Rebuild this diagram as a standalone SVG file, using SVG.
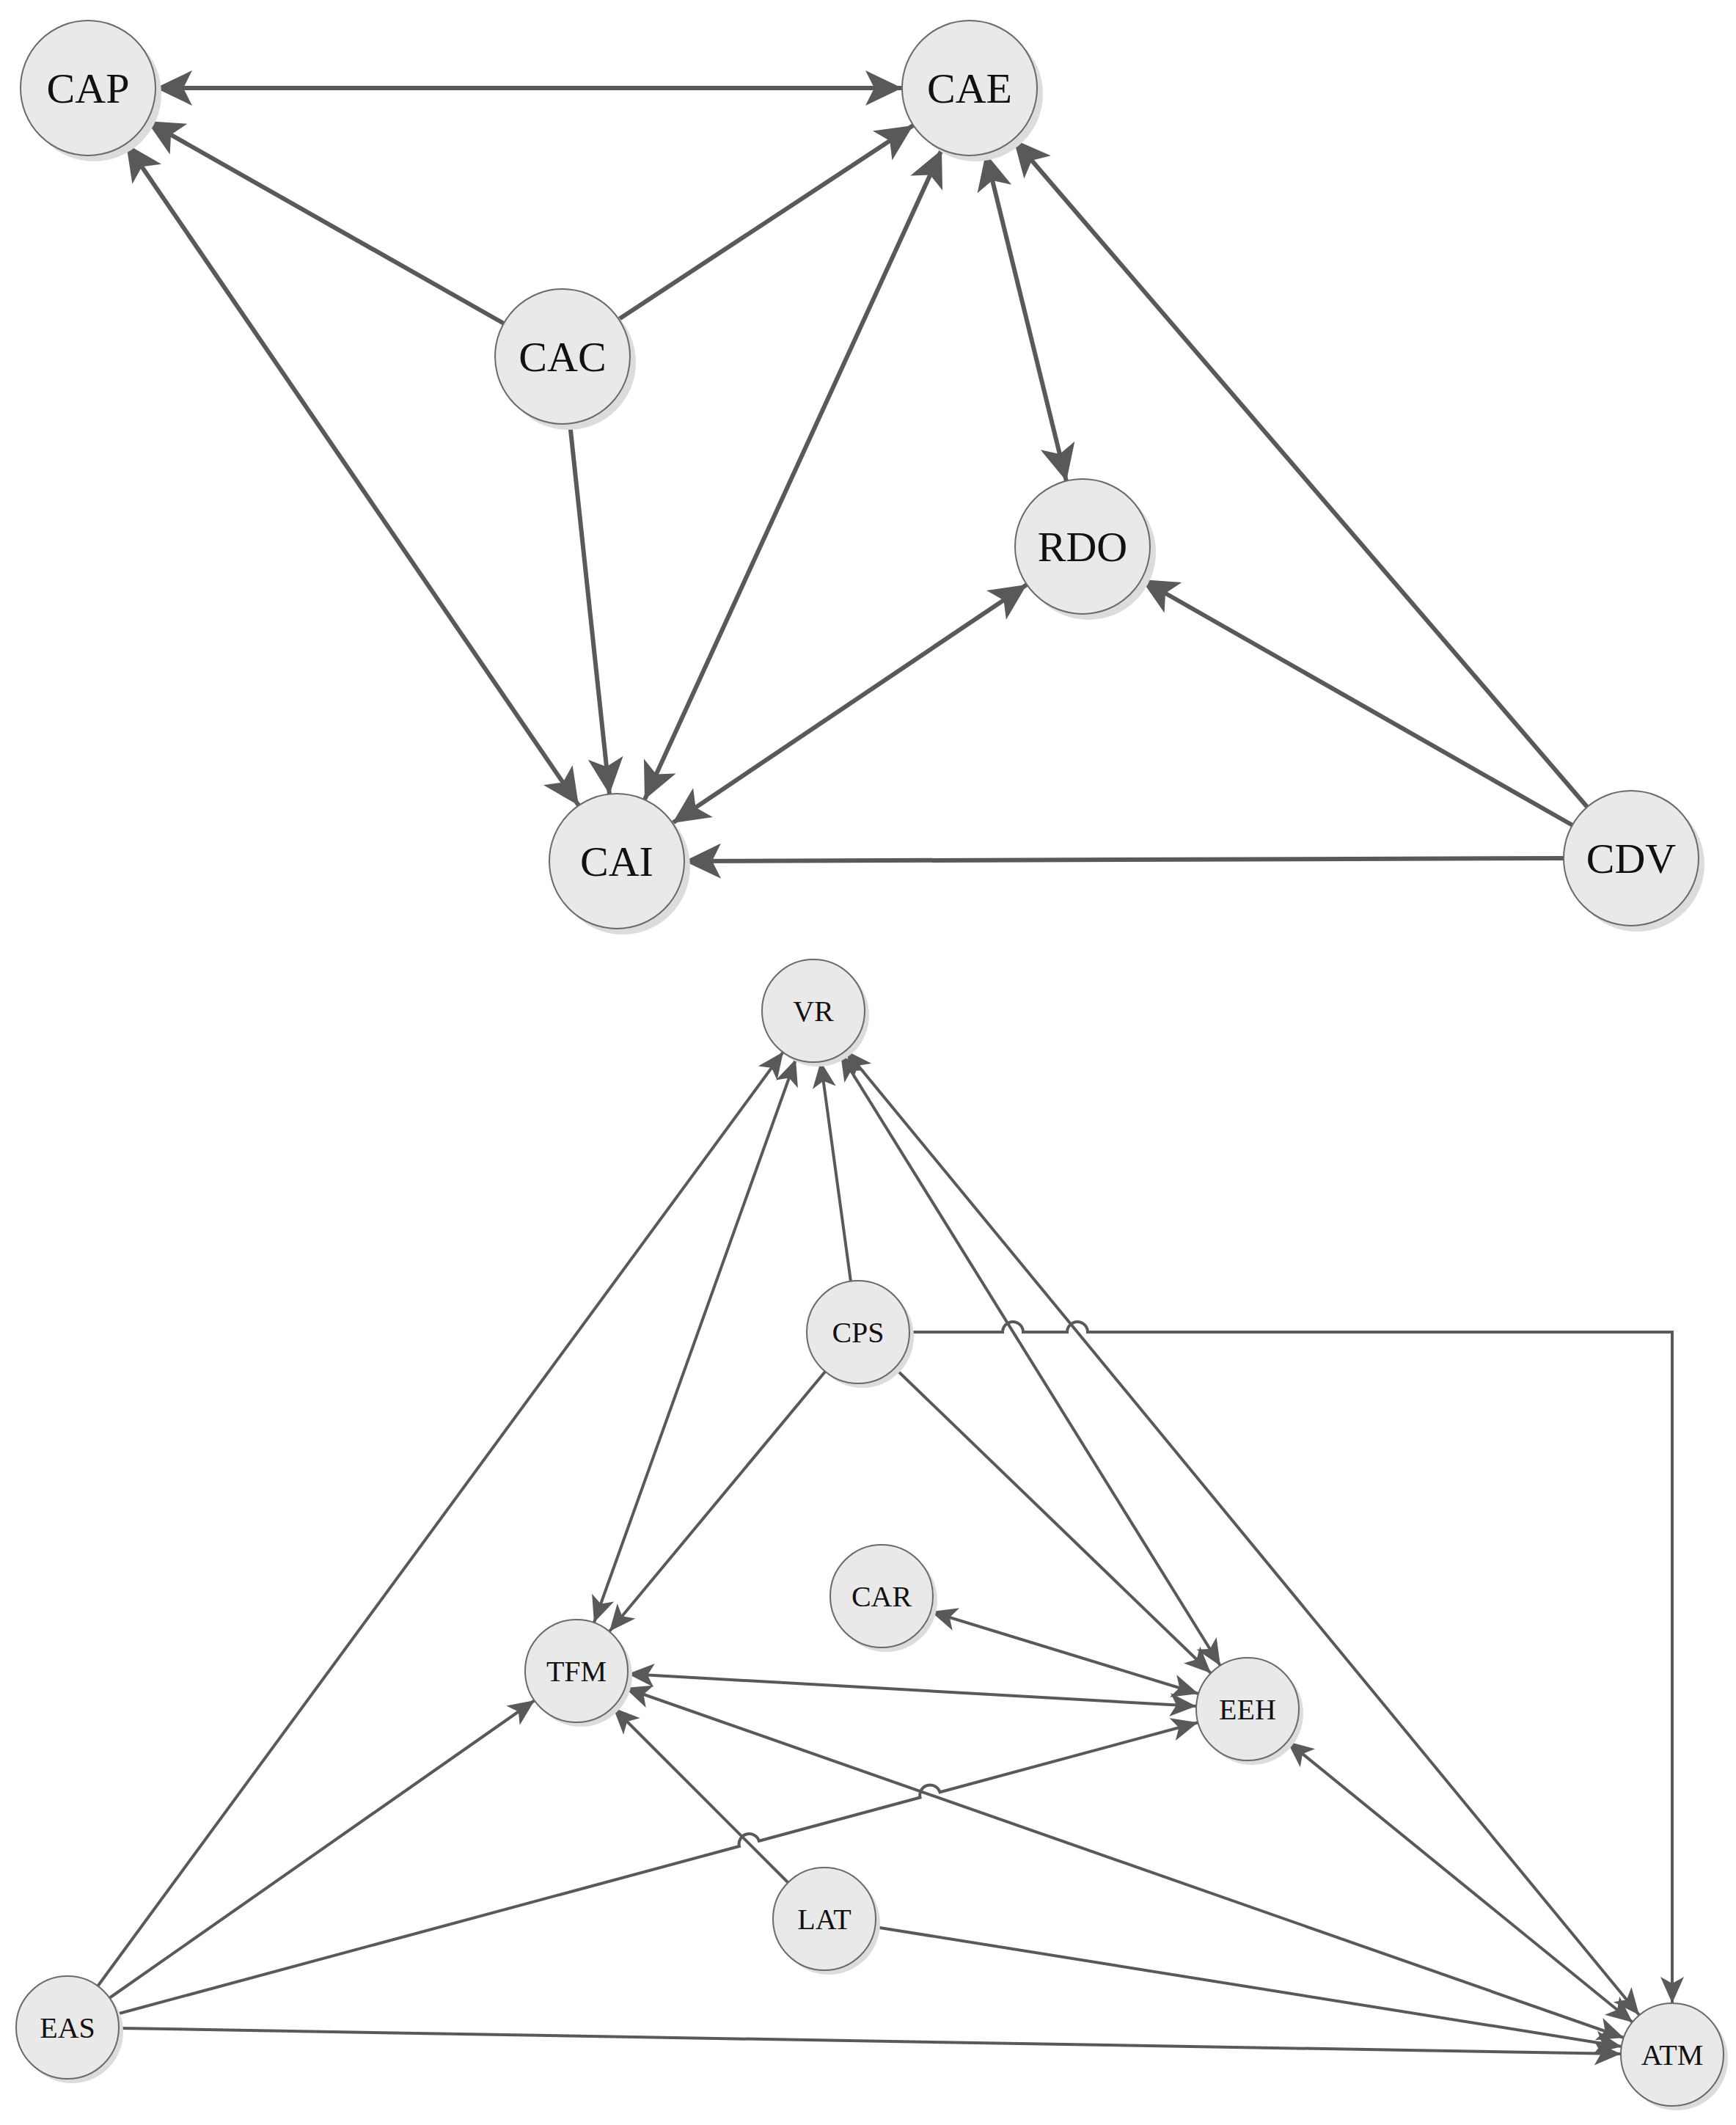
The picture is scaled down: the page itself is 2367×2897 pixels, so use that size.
<svg xmlns="http://www.w3.org/2000/svg" width="2367" height="2897" viewBox="0 0 2367 2897">
<style>
.n{fill:#e9e9e9;stroke:#6a6a6a;stroke-width:2}
.s{fill:#dcdcdc}
.t1{font-family:"Liberation Serif",serif;font-size:58px;fill:#111;text-anchor:middle;dominant-baseline:central}
.t2{font-family:"Liberation Serif",serif;font-size:40px;fill:#111;text-anchor:middle;dominant-baseline:central}
.a{stroke:#595959;stroke-width:6;fill:none;marker-end:url(#A)}
.ab{stroke:#595959;stroke-width:6;fill:none;marker-end:url(#A);marker-start:url(#A)}
.b{stroke:#595959;stroke-width:4;fill:none;marker-end:url(#B)}
.bb{stroke:#595959;stroke-width:4;fill:none;marker-end:url(#B);marker-start:url(#B)}
</style>
<defs>
<marker id="A" markerUnits="userSpaceOnUse" viewBox="-52 -26 54 52" refX="0" refY="0" markerWidth="54" markerHeight="52" orient="auto-start-reverse"><path d="M0,0 L-50,-24 L-38,0 L-50,24 Z" fill="#595959"/></marker>
<marker id="B" markerUnits="userSpaceOnUse" viewBox="-38 -18 40 36" refX="0" refY="0" markerWidth="40" markerHeight="36" orient="auto-start-reverse"><path d="M0,0 L-36,-16 L-27,0 L-36,16 Z" fill="#595959"/></marker>
</defs>
<rect width="2367" height="2897" fill="#fff"/>
<g id="connectors">
<path class="ab" d="M212,120 L1230,120"/>
<path class="a" d="M687,441 L200,165"/>
<path class="a" d="M844,435 L1245,171"/>
<path class="a" d="M777,577 L831,1083"/>
<path class="ab" d="M789,1098 L172,196"/>
<path class="ab" d="M879,1090 L1284,204"/>
<path class="ab" d="M1344,209 L1454,656"/>
<path class="ab" d="M917,1122 L1400,797"/>
<path class="a" d="M2144,1125 L1556,790"/>
<path class="a" d="M2164,1100 L1382,190"/>
<path class="a" d="M2132,1170 L933,1174"/>
<path class="b" d="M133,2708 L1068,1434"/>
<path class="bb" d="M810,2212 L1085,1444"/>
<path class="b" d="M1160,1747 L1119,1447"/>
<path class="bb" d="M1146,1437 L1664,2271"/>
<path class="bb" d="M1153,1432 L2235,2747"/>
<path class="b" d="M1125,1870 L831,2224"/>
<path class="b" d="M1220,1865 L1651,2281"/>
<path class="b" d="M1240,1816 H1367 A14,14 0 0 1 1395,1816 H1455 A14,14 0 0 1 1483,1816 H2280 V2731"/>
<path class="bb" d="M1269,2197 L1634,2309"/>
<path class="bb" d="M856,2282 L1631,2326"/>
<path class="bb" d="M852,2301 L2214,2778"/>
<path class="b" d="M1075,2567 L836,2328"/>
<path class="b" d="M1193,2627 L2211,2790"/>
<path class="b" d="M149,2724 L729,2318"/>
<path class="b" d="M159.6,2745.8 L1007.9,2517 A14,14 0 0 1 1034.9,2509.7 L1254.5,2450.5 A14,14 0 0 1 1281.5,2443.2 L1633.4,2348.3"/>
<path class="b" d="M162,2765 L2210,2800"/>
<path class="bb" d="M1755,2374 L2226,2757"/>
</g>
<g id="CAP"><circle class="s" cx="128" cy="128" r="92"/><circle class="n" cx="120" cy="120" r="92"/><text class="t1" x="120" y="120">CAP</text></g>
<g id="CAE"><circle class="s" cx="1330" cy="128" r="92"/><circle class="n" cx="1322" cy="120" r="92"/><text class="t1" x="1322" y="120">CAE</text></g>
<g id="CAC"><circle class="s" cx="775" cy="494" r="92"/><circle class="n" cx="767" cy="486" r="92"/><text class="t1" x="767" y="486">CAC</text></g>
<g id="RDO"><circle class="s" cx="1484" cy="753" r="92"/><circle class="n" cx="1476" cy="745" r="92"/><text class="t1" x="1476" y="745">RDO</text></g>
<g id="CAI"><circle class="s" cx="849" cy="1182" r="92"/><circle class="n" cx="841" cy="1174" r="92"/><text class="t1" x="841" y="1174">CAI</text></g>
<g id="CDV"><circle class="s" cx="2232" cy="1178" r="92"/><circle class="n" cx="2224" cy="1170" r="92"/><text class="t1" x="2224" y="1170">CDV</text></g>
<g id="VR"><circle class="s" cx="1115" cy="1384" r="70"/><circle class="n" cx="1109" cy="1378" r="70"/><text class="t2" x="1109" y="1378">VR</text></g>
<g id="CPS"><circle class="s" cx="1176" cy="1822" r="70"/><circle class="n" cx="1170" cy="1816" r="70"/><text class="t2" x="1170" y="1816">CPS</text></g>
<g id="CAR"><circle class="s" cx="1208" cy="2182" r="70"/><circle class="n" cx="1202" cy="2176" r="70"/><text class="t2" x="1202" y="2176">CAR</text></g>
<g id="TFM"><circle class="s" cx="792" cy="2284" r="70"/><circle class="n" cx="786" cy="2278" r="70"/><text class="t2" x="786" y="2278">TFM</text></g>
<g id="EEH"><circle class="s" cx="1707" cy="2336" r="70"/><circle class="n" cx="1701" cy="2330" r="70"/><text class="t2" x="1701" y="2330">EEH</text></g>
<g id="LAT"><circle class="s" cx="1130" cy="2622" r="70"/><circle class="n" cx="1124" cy="2616" r="70"/><text class="t2" x="1124" y="2616">LAT</text></g>
<g id="EAS"><circle class="s" cx="98" cy="2770" r="70"/><circle class="n" cx="92" cy="2764" r="70"/><text class="t2" x="92" y="2764">EAS</text></g>
<g id="ATM"><circle class="s" cx="2286" cy="2807" r="70"/><circle class="n" cx="2280" cy="2801" r="70"/><text class="t2" x="2280" y="2801">ATM</text></g>
</svg>
